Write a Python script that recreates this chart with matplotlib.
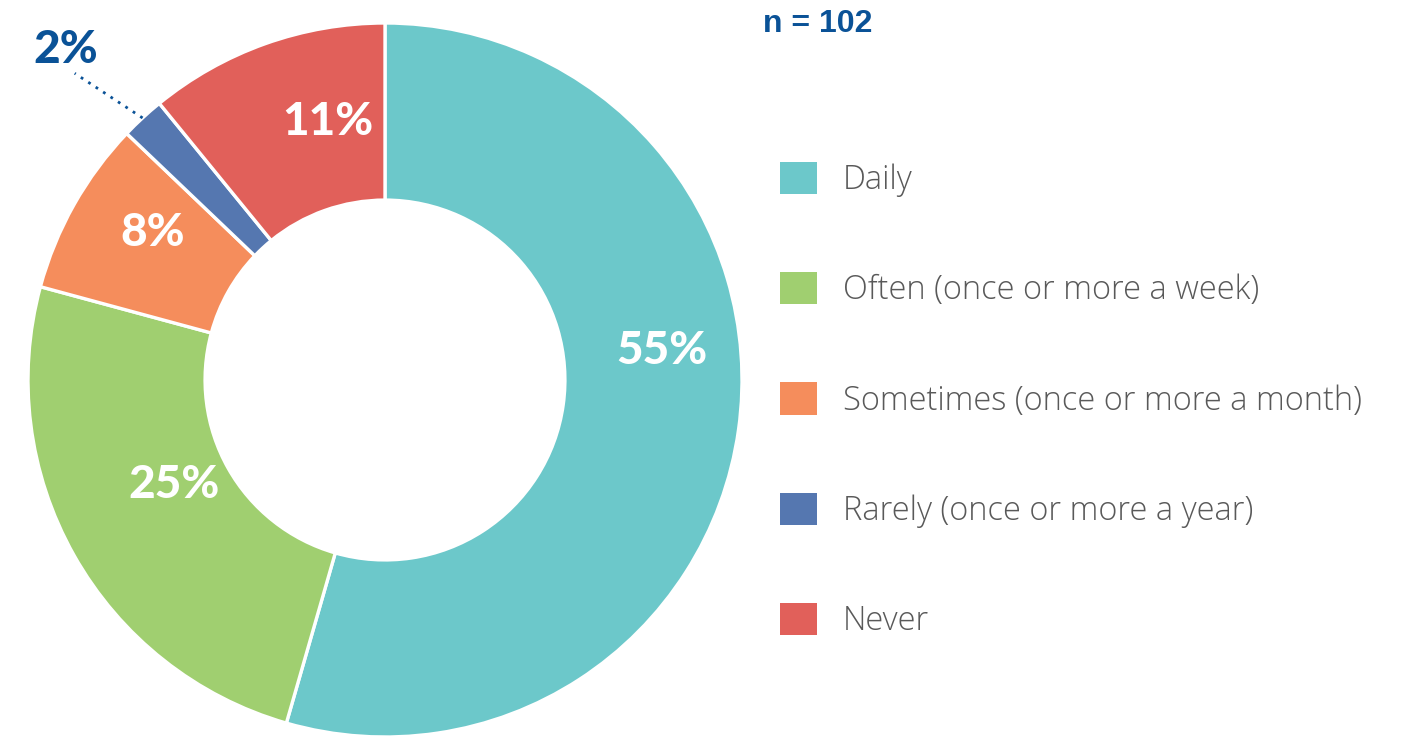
import numpy as np
import matplotlib
matplotlib.use('Agg')
import matplotlib.pyplot as plt

# data
categories = ['Daily', 'Often (once or more a week)',
              'Sometimes (once or more a month)',
              'Rarely (once or more a year)', 'Never']
shares = [55, 25, 8, 2, 11]
pct_labels = ['55%', '25%', '8%', '2%', '11%']
sample_note = 'n = 102'

colors = ['#6CC8CA', '#A0CF70', '#F58D5C', '#5577B0', '#E1605A']
label_angle_shift = [14, -3, -3, 0, -7]   # nudge inside labels (deg)
label_radius = [0.78, 0.66, 0.77, 0.0, 0.74]

W, H, DPI = 1405, 738, 100
fig = plt.figure(figsize=(W / DPI, H / DPI), dpi=DPI)

# donut axes: center (385, 380) px, radius 357 px
cx, cy, r = 385, 380, 357
ax = fig.add_axes([(cx - r) / W, (H - cy - r) / H, 2 * r / W, 2 * r / H])
wedges, _ = ax.pie(
    shares, colors=colors, startangle=90, counterclock=False,
    radius=1.0,
    wedgeprops=dict(width=0.496, edgecolor='white', linewidth=2.4),
)
ax.set_xlim(-1, 1)
ax.set_ylim(-1, 1)
ax.set_aspect('equal')
ax.axis('off')

pct_font = dict(family=['Lato', 'DejaVu Sans'], fontweight='black',
                fontsize=33)
for i, w in enumerate(wedges):
    mid = np.deg2rad((w.theta1 + w.theta2) / 2 + label_angle_shift[i])
    if pct_labels[i] == '2%':
        # small slice: label outside with a dotted leader
        x0, y0 = np.cos(mid) * 1.0, np.sin(mid) * 1.0
        ax.plot([x0, x0 - 0.19], [y0, y0 + 0.125], linestyle=(0, (1, 2.2)),
                color='#0A5297', linewidth=2, clip_on=False)
        ax.text(x0 - 0.215, y0 + 0.19, pct_labels[i], color='#0A5297',
                ha='center', va='center', **pct_font)
        continue
    ax.text(np.cos(mid) * label_radius[i], np.sin(mid) * label_radius[i],
            pct_labels[i], color='white', ha='center', va='center',
            **pct_font)

fig.text(763 / W, 1 - 24 / H, sample_note, color='#0A5297',
         family=['Liberation Sans Narrow', 'Liberation Sans'],
         fontweight='bold', fontsize=23, va='center', ha='left')

leg = fig.legend(
    wedges, categories, loc='upper left',
    bbox_to_anchor=(780 / W, 1 - 162 / H),
    frameon=False, borderpad=0, borderaxespad=0,
    prop=dict(family=['Open Sans', 'DejaVu Sans'], weight='light',
              size=23.5),
    handlelength=1.14, handleheight=1.14, handletextpad=0.78,
    labelspacing=2.3,
)
for t in leg.get_texts():
    t.set_color('#595959')
for h in leg.legend_handles:
    h.set_linewidth(0)

fig.savefig('out.png', dpi=DPI)
